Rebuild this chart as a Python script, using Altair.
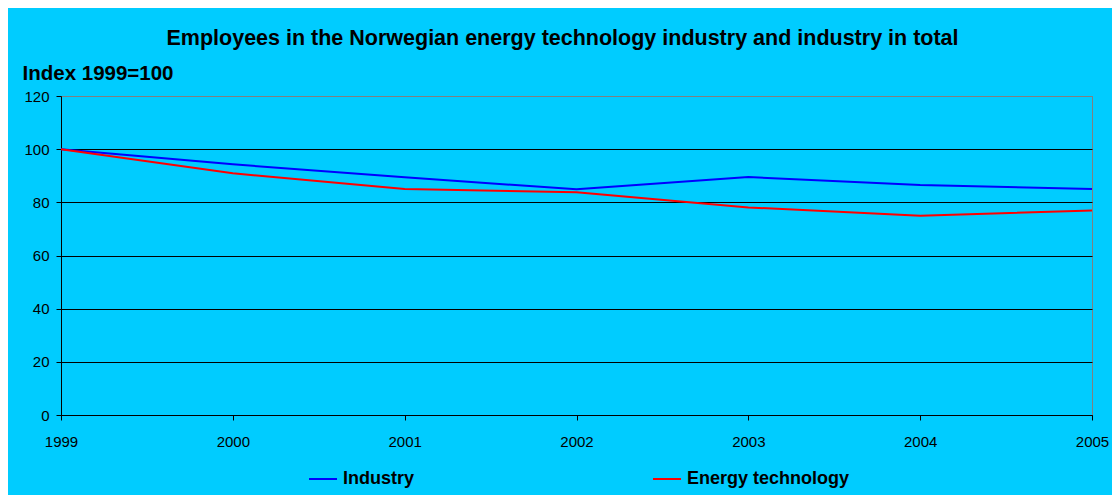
import altair as alt
import pandas as pd

years = [1999, 2000, 2001, 2002, 2003, 2004, 2005]
industry = [100, 94.3, 89.4, 84.9, 89.5, 86.5, 85.0]
energy_tech = [100, 90.9, 85.0, 83.8, 78.1, 75.0, 76.9]
series_names = ["Industry", "Energy technology"]
series_colors = ["#0000FF", "#FF0000"]

rows = []
for y, v in zip(years, industry):
    rows.append({"year": y, "value": v, "series": series_names[0]})
for y, v in zip(years, energy_tech):
    rows.append({"year": y, "value": v, "series": series_names[1]})
df = pd.DataFrame(rows)

FONT = "Liberation Sans"

chart = (
    alt.Chart(df)
    .mark_line(strokeWidth=2)
    .encode(
        x=alt.X(
            "year:Q",
            scale=alt.Scale(domain=[1999, 2005], nice=False, zero=False),
            axis=alt.Axis(
                values=years, format="d", title=None, grid=False,
                domainColor="black", tickColor="black", tickSize=5,
                labelPadding=14, labelFontSize=15, labelColor="black",
                labelFont=FONT, labelFlush=False,
            ),
        ),
        y=alt.Y(
            "value:Q",
            scale=alt.Scale(domain=[0, 120], nice=False),
            axis=alt.Axis(
                values=[0, 20, 40, 60, 80, 100, 120],
                title="Index 1999=100",
                titleAngle=0, titleAlign="left", titleBaseline="alphabetic",
                titleX=-39, titleY=-17, titleFontSize=20.5, titleFont=FONT,
                titleFontWeight="bold", titleColor="black",
                domainColor="black", tickColor="black", tickSize=5,
                labelPadding=7, labelFontSize=15, labelColor="black",
                labelFont=FONT,
                gridColor={"condition": {"test": "datum.value === 120", "value": "#808080"}, "value": "black"},
                gridWidth=1,
            ),
        ),
        color=alt.Color(
            "series:N",
            scale=alt.Scale(domain=series_names, range=series_colors),
            sort=series_names,
            legend=alt.Legend(
                title=None, orient="none", direction="horizontal",
                legendX=247, legendY=368,
                symbolType="stroke", symbolSize=784, symbolStrokeWidth=2,
                labelFontSize=18, labelFontWeight="bold", labelFont=FONT,
                labelColor="black", labelOffset=5, columnPadding=234,
                labelLimit=300,
            ),
        ),
    )
    .properties(
        width=1031,
        height=319,
        padding={"left": 53, "top": 88, "right": 20, "bottom": 80},
        autosize=alt.AutoSizeParams(type="none"),
        background="#00CCFF",
        title=alt.TitleParams(
            "Employees in the Norwegian energy technology industry and industry in total",
            fontSize=21.5, font=FONT, fontWeight="bold", color="black",
            anchor="middle", frame="group", offset=2, baseline="alphabetic",
            dx=-14, dy=5,
        ),
    )
    .configure_view(stroke="#808080", strokeWidth=1)
)

chart.save("out.html", embed_options={"renderer": "svg", "actions": False})
